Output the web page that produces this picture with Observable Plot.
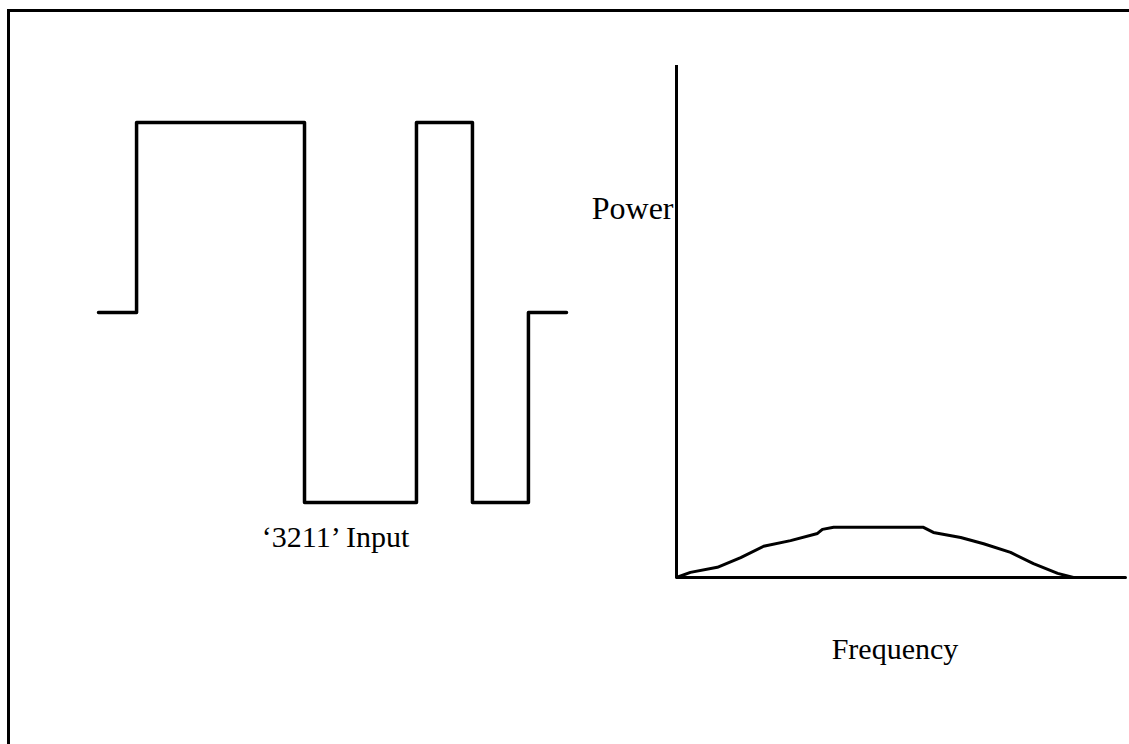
<!DOCTYPE html>
<html>
<head>
<meta charset="utf-8">
<script src="https://cdn.jsdelivr.net/npm/d3@7"></script>
<script src="https://cdn.jsdelivr.net/npm/@observablehq/plot@0.6"></script>
<style>
  html, body { margin: 0; padding: 0; background: #fff; }
  #page { position: relative; width: 1129px; height: 744px; overflow: hidden; background: #fff; }
  #frame { position: absolute; left: 7px; top: 9px; width: 1200px; height: 800px; border-top: 3px solid #000; border-left: 3px solid #000; }
  .layer { position: absolute; left: 0; top: 0; }
</style>
</head>
<body>
<div id="page">
  <div id="frame"></div>
  <div id="left" class="layer"></div>
  <div id="right" class="layer"></div>
</div>
<script>
// '3211' input: switching times (units) and input level after each time
const inputTimes  = [-0.68, 0, 3, 5, 6, 7, 7.68];
const inputLevels = [0, 1, -1, 1, -1, 0, 0];
const inputLabel = "\u20183211\u2019 Input";

// Power spectrum of the input (arbitrary units)
const freq  = [0, 0.31, 0.91, 1.43, 1.94, 2.54, 3.14, 3.25, 3.5, 5.5, 5.72, 6.33, 6.84, 7.44, 7.95, 8.49, 8.84, 10];
const power = [0, 0.10, 0.20, 0.39, 0.61, 0.72, 0.86, 0.94, 0.98, 0.98, 0.88, 0.78, 0.66, 0.49, 0.27, 0.08, 0, 0];
const powerLabel = "Power";
const freqLabel = "Frequency";

const inputData = inputTimes.map((t, i) => ({t, u: inputLevels[i]}));
const specData = freq.map((f, i) => ({f, p: power[i]}));

const font = {fontFamily: "'Liberation Serif', 'Times New Roman', serif", fontSize: "30px", background: "transparent", overflow: "visible"};

const left = Plot.plot({
  width: 640, height: 600,
  marginLeft: 98, marginRight: 74, marginTop: 122, marginBottom: 98,
  x: {domain: [-0.68, 7.68], axis: null},
  y: {domain: [-1, 1], axis: null},
  style: font,
  marks: [
    Plot.line(inputData, {x: "t", y: "u", curve: "step-after", stroke: "#000", strokeWidth: 3.5}),
    Plot.text([inputLabel], {frameAnchor: "bottom", dx: 3, dy: 44, fill: "#000", fontSize: 30})
  ]
});
document.getElementById("left").appendChild(left);

const right = Plot.plot({
  width: 1129, height: 744,
  marginLeft: 676, marginRight: 4, marginTop: 65, marginBottom: 167,
  x: {domain: [0, 10], axis: null},
  y: {domain: [0, 10], axis: null},
  style: font,
  marks: [
    Plot.ruleX([0], {stroke: "#000", strokeWidth: 3}),
    Plot.ruleY([0], {stroke: "#000", strokeWidth: 3}),
    Plot.line(specData, {x: "f", y: "p", stroke: "#000", strokeWidth: 3}),
    Plot.text([powerLabel], {x: 0, y: 7.2, textAnchor: "end", dx: -3, fill: "#000", fontSize: 32}),
    Plot.text([freqLabel], {frameAnchor: "bottom", dx: -6, dy: 81, fill: "#000", fontSize: 30})
  ]
});
document.getElementById("right").appendChild(right);
</script>
</body>
</html>
